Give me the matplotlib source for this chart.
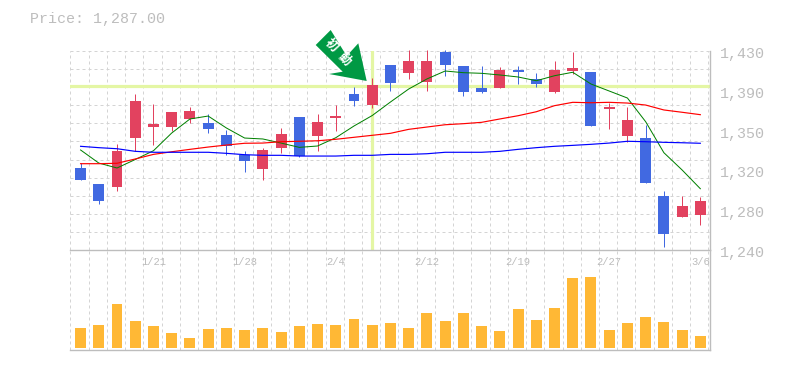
import matplotlib
matplotlib.use("Agg")
import matplotlib.pyplot as plt
from matplotlib.patches import Polygon
from matplotlib.transforms import IdentityTransform

W, H = 785, 370

# in yen
highs = [1323.0, 1303.0, 1341.2, 1388.9, 1379.4, 1371.7, 1376.5, 1369.8, 1354.6, 1334.5, 1337.4, 1356.5, 1367.0, 1369.8, 1378.4, 1395.6, 1404.2, 1416.6, 1430.5, 1430.5, 1430.5, 1415.7, 1415.7, 1414.7, 1415.7, 1409.0, 1420.5, 1429.0, 1409.9, 1380.3, 1376.5, 1359.3, 1296.3, 1291.5, 1290.6]
lows = [1306.8, 1283.9, 1296.3, 1334.5, 1340.2, 1353.6, 1361.2, 1351.7, 1330.7, 1314.4, 1306.8, 1332.6, 1328.8, 1334.5, 1353.6, 1377.5, 1375.6, 1391.8, 1403.3, 1391.8, 1406.1, 1387.0, 1389.9, 1394.7, 1398.5, 1395.6, 1389.9, 1408.0, 1358.4, 1355.5, 1343.1, 1303.9, 1242.8, 1271.5, 1263.8]
body_top = [1318.3, 1303.0, 1334.5, 1382.3, 1360.3, 1371.7, 1372.7, 1361.2, 1349.8, 1330.7, 1335.5, 1350.7, 1367.0, 1362.2, 1367.9, 1388.9, 1397.5, 1416.6, 1420.5, 1420.5, 1429.0, 1415.7, 1394.7, 1411.9, 1411.9, 1403.3, 1411.9, 1413.8, 1409.9, 1376.5, 1364.1, 1346.9, 1291.5, 1282.0, 1287.0]
body_bot = [1306.8, 1286.8, 1300.1, 1346.9, 1357.4, 1357.4, 1365.1, 1355.5, 1339.3, 1324.9, 1317.3, 1337.4, 1329.7, 1348.8, 1366.0, 1382.3, 1378.4, 1399.4, 1409.0, 1400.4, 1416.6, 1390.8, 1390.8, 1394.7, 1409.9, 1398.5, 1390.8, 1410.9, 1358.4, 1374.6, 1348.8, 1303.9, 1255.2, 1271.5, 1273.4]
is_up = [0, 0, 1, 1, 1, 1, 1, 0, 0, 0, 1, 1, 0, 1, 1, 0, 1, 0, 1, 1, 0, 0, 0, 1, 0, 0, 1, 1, 0, 1, 1, 0, 0, 1, 1]

ma5 = [1335.5, 1323.0, 1318.3, 1326.4, 1334.8, 1351.7, 1365.1, 1367.9, 1356.5, 1346.9, 1346.0, 1342.1, 1338.0, 1339.3, 1347.2, 1358.4, 1368.4, 1381.3, 1393.7, 1403.3, 1410.9, 1409.3, 1408.7, 1407.1, 1405.2, 1401.6, 1406.4, 1409.7, 1398.5, 1391.8, 1385.1, 1362.5, 1332.9, 1316.4, 1298.5]
ma25 = [1322.4, 1322.4, 1322.8, 1326.9, 1331.3, 1333.8, 1336.1, 1338.3, 1340.2, 1341.9, 1342.1, 1343.4, 1343.8, 1344.3, 1345.7, 1347.6, 1349.5, 1351.4, 1355.2, 1357.4, 1359.6, 1360.6, 1361.9, 1365.1, 1368.2, 1372.0, 1377.8, 1381.0, 1380.6, 1381.0, 1380.3, 1378.4, 1373.7, 1371.5, 1369.2]
ma75 = [1339.0, 1337.7, 1336.7, 1334.2, 1333.3, 1333.3, 1333.3, 1333.3, 1332.3, 1331.0, 1330.4, 1330.4, 1329.7, 1329.7, 1329.7, 1330.4, 1330.4, 1331.3, 1331.3, 1331.9, 1333.3, 1333.3, 1333.3, 1334.2, 1336.1, 1337.7, 1339.0, 1339.9, 1340.9, 1342.1, 1343.8, 1343.4, 1342.8, 1342.4, 1341.9]

volume = [20, 23, 44, 27, 22, 15, 10, 19, 20, 18, 20, 16, 22, 24, 23, 29, 23, 25, 20, 35, 27, 35, 22, 17, 39, 28, 40, 70, 71, 18, 25, 31, 26, 18, 12]

price_ticks = [1430, 1392, 1354, 1316, 1278, 1240]
price_labels = ["1,430", "1,390", "1,350", "1,320", "1,280", "1,240"]
date_labels = ["1/21", "1/28", "2/4", "2/12", "2/19", "2/27", "3/6"]
date_pos = [4, 9, 14, 19, 24, 29, 34]
price_now = "Price: 1,287.00"
signal_price = 1397
signal_day = 16

GRAY = "#bdbdbd"
GRID = "#d4d4d4"
RED = "#e2425f"
BLUE = "#4169e1"
HILITE = "#e4f6a4"
MONO = "Liberation Mono"

fig = plt.figure(figsize=(W / 100, H / 100), dpi=100)


def box(x0, y0, x1, y1):
    return [x0 / W, 1 - y1 / H, (x1 - x0) / W, (y1 - y0) / H]


ax = fig.add_axes(box(70, 51, 710, 250))
vol = fig.add_axes(box(70, 250, 710, 350))
xlim = (-0.58, 34.53)
days = list(range(len(body_top)))

for a in (ax, vol):
    a.set_xlim(*xlim)
    a.set_xticks([d + 0.44 for d in days] + [-0.56], labels=[])
    a.tick_params(length=0)
    a.grid(axis="x", color=GRID, ls=(0, (3, 3)), lw=0.72)
    a.set_axisbelow(True)
    for s in a.spines.values():
        s.set_visible(False)

ax.set_ylim(1240, 1430)
ax.set_yticks([1430 - k * 190 / 11 for k in range(0, 11)], labels=[])
ax.grid(axis="y", color=GRID, ls=(0, (3, 3)), lw=0.72, clip_on=False)

# signal cross
ax.axhline(signal_price, color=HILITE, lw=2.3, zorder=1)
ax.axvline(signal_day, color=HILITE, lw=2.3, zorder=1)

# candles
for d in days:
    c = RED if is_up[d] else BLUE
    ax.vlines(d, lows[d], highs[d], color=c, lw=0.72, zorder=3, clip_on=False)
    ax.bar(d, body_top[d] - body_bot[d], bottom=body_bot[d], width=0.6, color=c, zorder=3, antialiased=False)

ax.plot(days, ma5, color="#008000", lw=0.72, zorder=4)
ax.plot(days, ma25, color="#ff0000", lw=0.85, zorder=4)
ax.plot(days, ma75, color="#0000ff", lw=0.85, zorder=4)

vol.set_ylim(-2, 98)
vol.set_yticks([])
vol.bar(days, volume, width=0.6, color="#ffb835", zorder=3, antialiased=False)

# frame: right and bottom gray, plus the line between the panels
for a, names in ((ax, ["right"]), (vol, ["bottom", "top", "right"])):
    for n in names:
        a.spines[n].set_visible(True)
        a.spines[n].set_color(GRAY)
        a.spines[n].set_linewidth(1.0)

for lbl, p in zip(date_labels, date_pos):
    vol.annotate(lbl, (p, 1), xycoords=("data", "axes fraction"), xytext=(0, -12), textcoords="offset pixels",
                 ha="center", va="center", color=GRAY, fontsize=7.6, family=MONO)

for p, lbl in zip(price_ticks, price_labels):
    ax.annotate(lbl, (1, p), xycoords=("axes fraction", "data"), xytext=(10, -7), textcoords="offset pixels",
                ha="left", va="baseline", color=GRAY, fontsize=10.8, family=MONO)

fig.text(30 / W, 1 - 23 / H, price_now, color=GRAY, fontsize=10.8, family=MONO, va="baseline", ha="left")

# arrow flag, drawn in pixels
flag = [(330.7, 30), (315.7, 45), (342.7, 71.7), (329, 74), (366.7, 81), (358.3, 43.3), (346.7, 56)]
fig.add_artist(Polygon([(x, H - y) for x, y in flag], closed=True, transform=IdentityTransform(), color="#009944", lw=0, zorder=6))
for ch, (tx, ty) in zip("初動", [(331, 45), (344, 59)]):
    fig.text(tx / W, 1 - ty / H, ch, color="white", fontsize=9, rotation=-45, rotation_mode="anchor",
             ha="center", va="center", family=["Noto Sans CJK JP", "DejaVu Sans"], weight="bold", zorder=7)

fig.savefig("out.png", dpi=100)
